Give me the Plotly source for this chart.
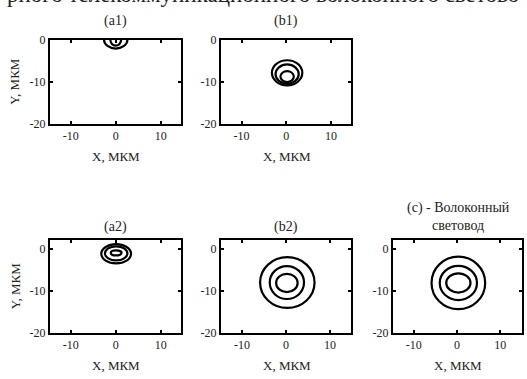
import plotly.graph_objects as go

# ---- data ----
panels = ["a1", "b1", "a2", "b2", "c"]
panel_titles = ["(a1)", "(b1)", "(a2)", "(b2)", "(c) - Волоконный<br>световод"]
x_ticks = [-10, 0, 10]
y_ticks = [-20, -10, 0]
x_title = "X, МКМ"
y_title = "Y, МКМ"
header_text = "рного телекоммуникационного волоконного светово"

# contour rings: centre x, centre y, half-width, half-height (мкм)
a1_cx = [0.0, 0.0]
a1_cy = [0.0, 0.0]
a1_rx = [2.6, 1.2]
a1_ry = [2.1, 1.4]

b1_cx = [0.2, 0.2, 0.2]
b1_cy = [-7.9, -8.2, -8.8]
b1_rx = [3.4, 2.6, 1.5]
b1_ry = [3.0, 2.3, 1.3]

a2_cx = [0.1, 0.1, 0.1]
a2_cy = [-1.1, -1.0, -0.9]
a2_rx = [3.3, 2.5, 1.2]
a2_ry = [2.3, 1.7, 0.6]

b2_cx = [0.3, 0.2, 0.2]
b2_cy = [-8.0, -8.0, -8.1]
b2_rx = [6.2, 3.9, 2.45]
b2_ry = [6.1, 3.95, 2.2]

c_cx = [0.3, 0.3, 0.3]
c_cy = [-8.1, -8.1, -8.1]
c_rx = [6.2, 4.3, 2.8]
c_ry = [6.3, 4.1, 2.3]

rings = {
    "a1": (a1_cx, a1_cy, a1_rx, a1_ry),
    "b1": (b1_cx, b1_cy, b1_rx, b1_ry),
    "a2": (a2_cx, a2_cy, a2_rx, a2_ry),
    "b2": (b2_cx, b2_cy, b2_rx, b2_ry),
    "c": (c_cx, c_cy, c_rx, c_ry),
}

# ---- layout geometry ----
W, H = 527, 379
col_px = {"a": (50, 181), "b": (221, 351), "c": (393, 522)}
row_px = {1: (34, 121), 2: (242, 338)}
panel_pos = {"a1": ("a", 1), "b1": ("b", 1), "a2": ("a", 2), "b2": ("b", 2), "c": ("c", 2)}
x_ranges = {"a1": [-14.6, 14.5], "b1": [-14.6, 14.5], "a2": [-14.6, 14.5],
            "b2": [-14.8, 14.8], "c": [-14.8, 15.0]}
y_ranges = {1: [-20, 0], 2: [-20, 2.2]}

SERIF = "Liberation Serif, Times New Roman, DejaVu Serif, serif"
TXT = "#222"
fig = go.Figure()
layout = dict(
    width=W, height=H, margin=dict(l=0, r=0, t=0, b=0),
    paper_bgcolor="white", plot_bgcolor="white", showlegend=False,
    font=dict(family=SERIF, color=TXT, size=12),
)
shapes = []
annotations = []


def ann(text, xpx, ypx, size, angle=0):
    return dict(text=text, x=xpx / W, y=1 - ypx / H, xref="paper", yref="paper",
                xanchor="center", yanchor="middle", showarrow=False, textangle=angle,
                font=dict(family=SERIF, size=size, color=TXT))


for i, p in enumerate(panels):
    n = i + 1
    xs = "" if n == 1 else str(n)
    col, row = panel_pos[p]
    x0p, x1p = col_px[col]
    y0p, y1p = row_px[row]
    xdom = [x0p / W, x1p / W]
    ydom = [1 - y1p / H, 1 - y0p / H]
    axcommon = dict(showline=True, linewidth=2, linecolor="black", mirror="ticks",
                    ticks="inside", ticklen=3, tickwidth=1.5, tickcolor="black",
                    showgrid=False, zeroline=False, fixedrange=True,
                    tickfont=dict(family=SERIF, size=12, color=TXT))
    layout["xaxis" + xs] = dict(domain=xdom, range=x_ranges[p], anchor="y" + xs,
                                tickvals=x_ticks, ticktext=[str(t) for t in x_ticks], **axcommon)
    layout["yaxis" + xs] = dict(domain=ydom, range=y_ranges[row], anchor="x" + xs,
                                tickvals=y_ticks, ticktext=[str(t) for t in y_ticks], **axcommon)
    fig.add_trace(go.Scatter(x=[None], y=[None], xaxis="x" + xs, yaxis="y" + xs,
                             mode="lines", hoverinfo="skip"))
    cx, cy, rx, ry = rings[p]
    for k in range(len(cx)):
        shapes.append(dict(type="circle", xref="x" + xs, yref="y" + xs,
                           x0=cx[k] - rx[k], x1=cx[k] + rx[k],
                           y0=cy[k] - ry[k], y1=cy[k] + ry[k],
                           line=dict(color="black", width=2.2)))
    xc = (x0p + x1p) / 2
    if p == "c":
        annotations.append(ann(panel_titles[i], xc + 1, 218, 14))
    else:
        annotations.append(ann(panel_titles[i], xc - 0.5, 15 if row == 1 else 228, 14))
    annotations.append(ann(x_title, xc + 0.5, y1p + 34, 13))
    if col == "a":
        annotations.append(ann(y_title, 15, (y0p + y1p) / 2, 13, -90))

annotations.append(ann(header_text, 263, -13, 23))

layout["shapes"] = shapes
layout["annotations"] = annotations
fig.update_layout(**layout)
fig.write_html("out.html")
